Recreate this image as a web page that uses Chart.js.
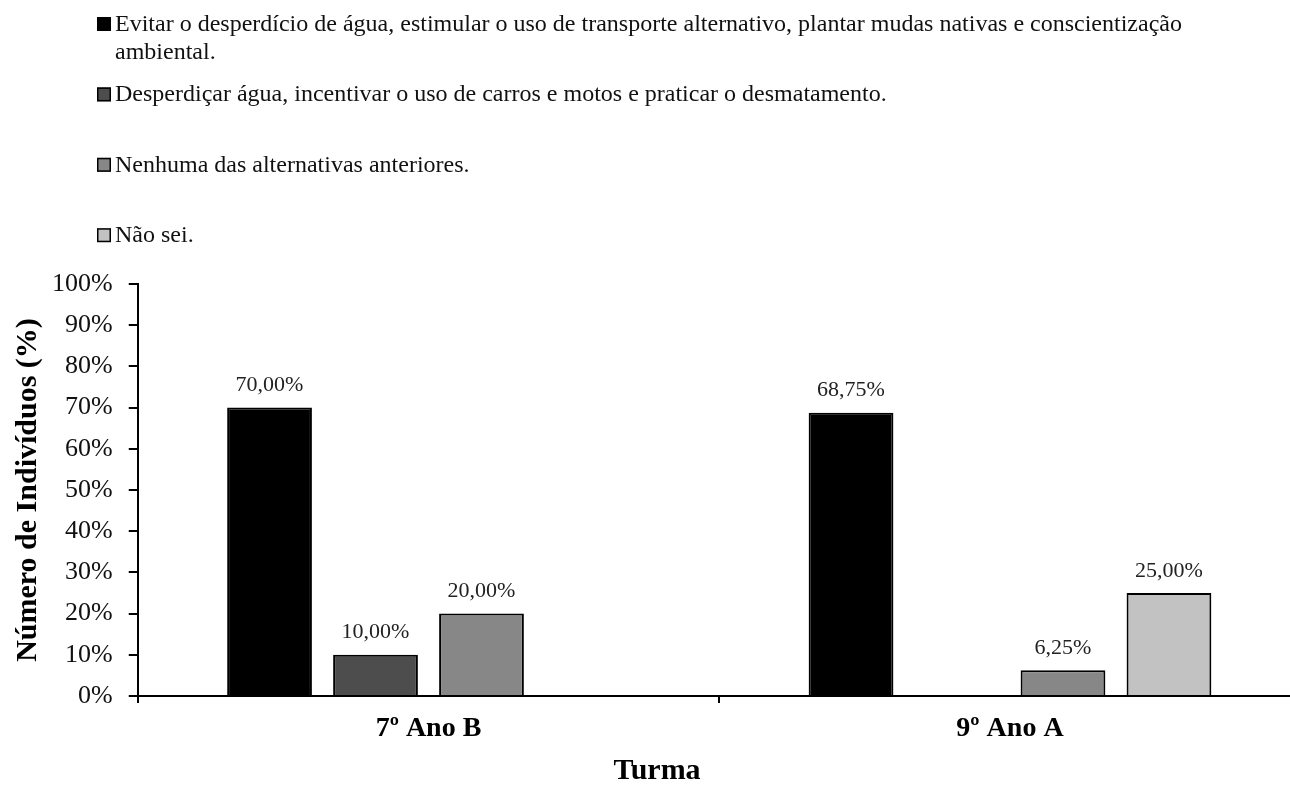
<!DOCTYPE html>
<html lang="pt-BR">
<head>
<meta charset="utf-8">
<title>Ações ambientais por turma</title>
<script src="https://cdn.jsdelivr.net/npm/chart.js@4/dist/chart.umd.min.js"></script>
<style>
  html, body { margin: 0; padding: 0; background: #ffffff; overflow: hidden; }
  #wrap { position: relative; width: 1314px; height: 785px; }
</style>
</head>
<body>
<div id="wrap"><canvas id="grafico"></canvas></div>
<script>
// Turmas (eixo X)
const turmas = ['7º Ano B', '9º Ano A'];

// Respostas (legenda)
const respostas = [
  'Evitar o desperdício de água, estimular o uso de transporte alternativo, plantar mudas nativas e conscientização ambiental.',
  'Desperdiçar água, incentivar o uso de carros e motos e praticar o desmatamento.',
  'Nenhuma das alternativas anteriores.',
  'Não sei.'
];

// Percentual de indivíduos por resposta, na ordem das turmas (null = sem resposta)
const evitarDesperdicio = [70.00, 68.75];
const desperdicar = [10.00, null];
const nenhuma = [20.00, 6.25];
const naoSei = [null, 25.00];

// Rótulos do eixo Y
const escalaY = { min: 0, max: 100, passo: 10 };

const cores = ['#000000', '#4d4d4d', '#878787', '#c2c2c2'];
const serie = [evitarDesperdicio, desperdicar, nenhuma, naoSei];

const fonte = '"Liberation Serif", "Times New Roman", serif';

// Legenda empilhada no topo, com quebra de linha para textos longos
const legendaTopo = {
  id: 'legendaTopo',
  afterDraw(chart, args, opts) {
    const ctx = chart.ctx;
    ctx.save();
    ctx.font = `${opts.size}px ${fonte}`;
    ctx.textAlign = 'left';
    ctx.textBaseline = 'alphabetic';
    chart.data.datasets.forEach((ds, i) => {
      const base = opts.top + i * opts.step;
      const q = opts.box;
      ctx.fillStyle = ds.backgroundColor;
      ctx.fillRect(opts.left, base - q, q, q);
      ctx.lineWidth = 1.5;
      ctx.strokeStyle = '#000';
      ctx.strokeRect(opts.left + 0.75, base - q + 0.75, q - 1.5, q - 1.5);
      // quebra por palavras
      const palavras = ds.label.split(' ');
      const linhas = [];
      let atual = '';
      palavras.forEach(p => {
        const teste = atual ? atual + ' ' + p : p;
        if (ctx.measureText(teste).width > opts.maxWidth && atual) {
          linhas.push(atual);
          atual = p;
        } else {
          atual = teste;
        }
      });
      if (atual) linhas.push(atual);
      ctx.fillStyle = '#111';
      linhas.forEach((l, k) => {
        ctx.fillText(l, opts.left + opts.textGap, base + k * opts.lineHeight);
      });
    });
    ctx.restore();
  }
};

// Valores percentuais acima das barras
const rotulosValor = {
  id: 'rotulosValor',
  afterDatasetsDraw(chart, args, opts) {
    const ctx = chart.ctx;
    ctx.save();
    ctx.font = `${opts.size}px ${fonte}`;
    ctx.fillStyle = '#222';
    ctx.textAlign = 'center';
    ctx.textBaseline = 'alphabetic';
    chart.data.datasets.forEach((ds, i) => {
      const meta = chart.getDatasetMeta(i);
      meta.data.forEach((barra, j) => {
        const v = ds.data[j];
        if (v === null || v === undefined) return;
        const txt = v.toFixed(2).replace('.', ',') + '%';
        ctx.fillText(txt, barra.x, barra.y - opts.offset);
      });
    });
    ctx.restore();
  }
};

new Chart(document.getElementById('grafico'), {
  type: 'bar',
  data: {
    labels: turmas,
    datasets: respostas.map((r, i) => ({
      label: r,
      data: serie[i],
      backgroundColor: cores[i],
      borderColor: '#000000',
      borderWidth: 2,
      categoryPercentage: 0.729,
      barPercentage: 0.80
    }))
  },
  options: {
    responsive: true,
    maintainAspectRatio: false,
    animation: false,
    layout: { padding: { top: 284, right: 13.25, bottom: 0, left: 13.25 } },
    plugins: {
      legend: { display: false },
      tooltip: { enabled: false },
      title: {
        display: true,
        text: 'Turma',
        position: 'bottom',
        color: '#000',
        font: { family: fonte, size: 30, weight: 'bold', lineHeight: 0.9 },
        padding: { top: 0, bottom: 0 }
      },
      legendaTopo: {
        left: 97, top: 31, step: 70.4, box: 14, textGap: 18,
        size: 24, lineHeight: 28, maxWidth: 1125
      },
      rotulosValor: { size: 22, offset: 16.5 }
    },
    scales: {
      x: {
        afterFit(scale) { scale.height = 62; },
        grid: {
          display: true,
          drawOnChartArea: false,
          drawTicks: true,
          tickLength: 7,
          color: '#000',
          lineWidth: 2
        },
        border: { display: true, color: '#000', width: 2 },
        ticks: {
          color: '#000',
          padding: 9,
          font: { family: fonte, size: 28, weight: 'bold' }
        }
      },
      y: {
        min: escalaY.min,
        max: escalaY.max,
        afterFit(scale) { scale.width = 124.5; },
        grid: {
          display: true,
          drawOnChartArea: false,
          drawTicks: true,
          tickLength: 9,
          color: '#000',
          lineWidth: 2
        },
        border: { display: true, color: '#000', width: 2 },
        ticks: {
          stepSize: escalaY.passo,
          color: '#111',
          padding: 16,
          font: { family: fonte, size: 26 },
          callback: v => v + '%'
        },
        title: {
          display: true,
          text: 'Número de Indivíduos (%)',
          color: '#000',
          font: { family: fonte, size: 30, weight: 'bold', lineHeight: 1 },
          padding: { top: 0, bottom: 0 }
        }
      }
    }
  },
  plugins: [legendaTopo, rotulosValor]
});
</script>
</body>
</html>
